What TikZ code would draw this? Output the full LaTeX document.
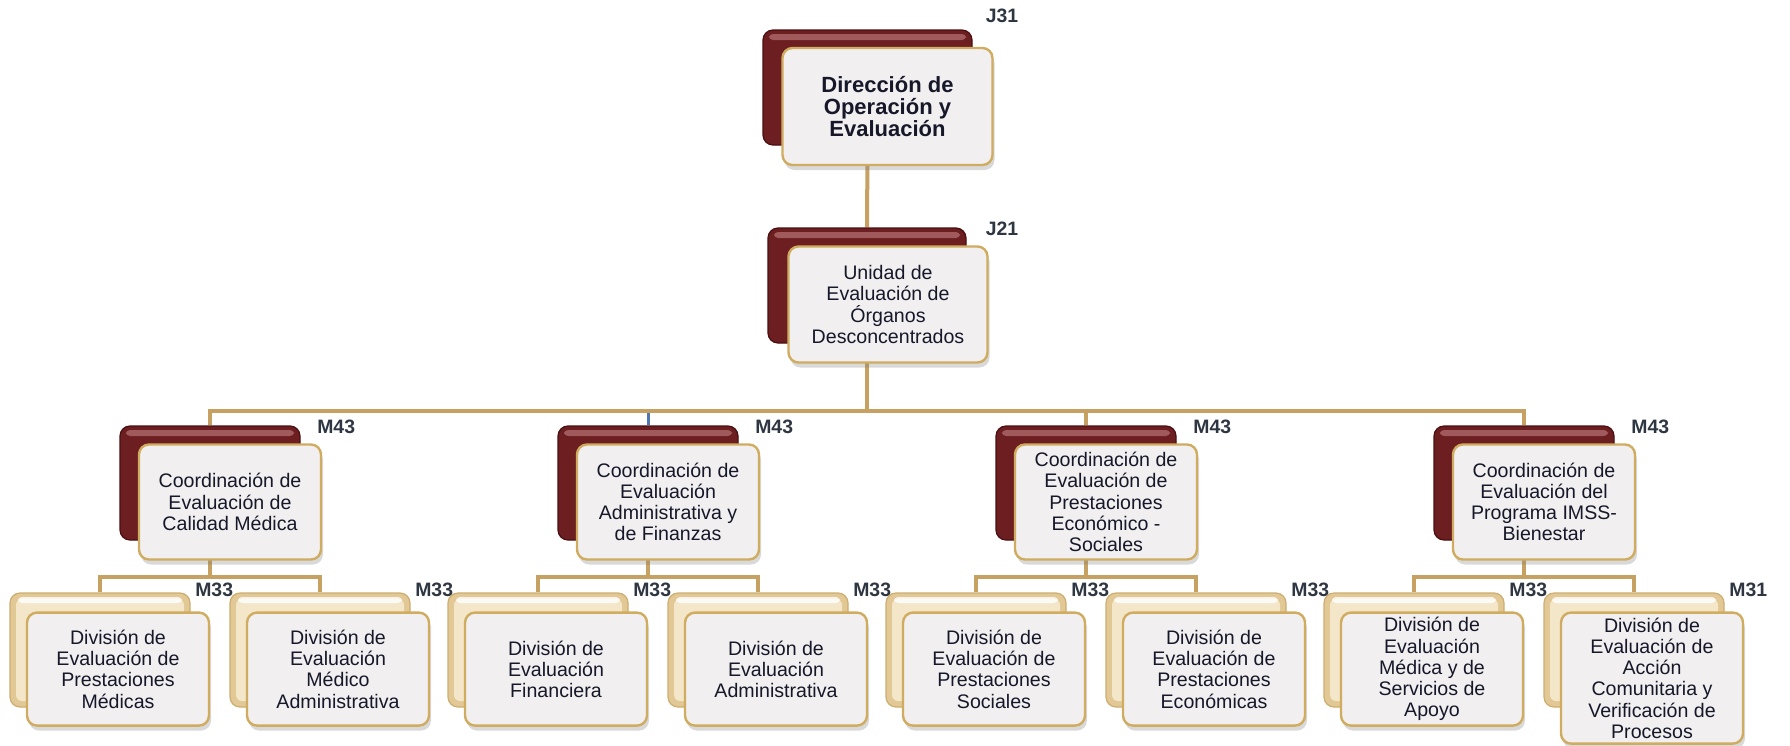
\documentclass[tikz,border=0pt]{standalone}
\usepackage{fontspec}
\setmainfont{Liberation Sans}
\usetikzlibrary{backgrounds,shadows}
\definecolor{maroonDk}{HTML}{4A0F11}
\definecolor{maroonBase}{HTML}{6C1E20}
\definecolor{maroonLt}{HTML}{A05A5B}
\definecolor{goldline}{HTML}{C6A161}
\definecolor{goldedge}{HTML}{D0AC60}
\definecolor{beigeLt}{HTML}{F3E6C9}
\definecolor{beigeBase}{HTML}{E2C894}
\definecolor{beigeDk}{HTML}{CDAE70}
\definecolor{cardfill}{HTML}{F1EFEF}
\definecolor{textdark}{HTML}{16182A}
\definecolor{codegray}{HTML}{2E3642}
\definecolor{linkblue}{HTML}{4F78B0}
\tikzset{
  backred/.style={rectangle,rounded corners=5pt,draw=maroonDk,line width=0.6pt,fill=maroonBase,minimum width=90pt,minimum height=57pt,inner sep=0pt,
    path picture={\fill[maroonLt,rounded corners=2pt] ([shift={(3pt,-2pt)}]path picture bounding box.north west) rectangle ([shift={(-3pt,-5pt)}]path picture bounding box.north east);}},
  backtan/.style={rectangle,rounded corners=5pt,draw=beigeDk,line width=0.6pt,fill=beigeBase,minimum width=90pt,minimum height=57pt,inner sep=0pt,
    path picture={\fill[beigeLt,rounded corners=3pt] ([shift={(3pt,-3pt)}]path picture bounding box.north west) rectangle ([shift={(-3pt,3pt)}]path picture bounding box.south east);
      \fill[white,opacity=0.8,rounded corners=2pt] ([shift={(4pt,-2pt)}]path picture bounding box.north west) rectangle ([shift={(-4pt,-5pt)}]path picture bounding box.north east);}},
  card/.style={rectangle,rounded corners=5pt,draw=goldedge,line width=1.2pt,fill=cardfill,drop shadow={shadow xshift=1pt,shadow yshift=-2.5pt,opacity=0.3},minimum width=91pt,minimum height=57pt,inner sep=1pt,align=center,text=textdark,font=\fontsize{9.8}{10.6}\selectfont},
  codelbl/.style={font=\bfseries\fontsize{9.7}{10}\selectfont,text=codegray,inner sep=0pt},
  orgline/.style={goldline,line width=2pt}
}

\begin{document}
\begin{tikzpicture}[x=0.5pt,y=-0.5pt]
\useasboundingbox (0,0) rectangle (1790,745);
% top levels
\node[backred,minimum width=104.5pt,minimum height=57.5pt] (b1) at (867.5,87.5) {};
\node[card,minimum width=105pt,minimum height=58.5pt,font=\bfseries\fontsize{11}{11}\selectfont] (fb1) at ([shift={(20,19)}]b1) {Dirección de\\Operación y\\Evaluación};
\node[codelbl] (lb1) at (1002,16) {J31};
\node[backred,minimum width=99pt,minimum height=57.5pt] (b2) at (867,285.5) {};
\node[card,minimum width=99.5pt,minimum height=58pt] (fb2) at ([shift={(21,19)}]b2) {Unidad de\\Evaluación de\\Órganos\\Desconcentrados};
\node[codelbl] (lb2) at (1002,229) {J21};
% coordinations
\foreach \k/\txt in {1/{Coordinación de\\Evaluación de\\Calidad Médica},2/{Coordinación de\\Evaluación\\Administrativa y\\de Finanzas},3/{Coordinación de\\Evaluación de\\Prestaciones\\Económico -\\Sociales},4/{Coordinación de\\Evaluación del\\Programa IMSS-\\Bienestar}}{
  \node[backred] (c\k) at (\k*438-228,483) {};
  \node[card,minimum height=57.5pt] (fc\k) at ([shift={(20,19)}]c\k) {\txt};
  \node[codelbl] (lc\k) at ([shift={(14,-16)}]fc\k.north east) {M43};
}
% divisions
\foreach \j/\p/\dx/\lbl/\bh/\txt in {1/1/-110/M33/56.5/{División de\\Evaluación de\\Prestaciones\\Médicas},2/1/110/M33/56.5/{División de\\Evaluación\\Médico\\Administrativa},3/2/-110/M33/56.5/{División de\\Evaluación\\Financiera},4/2/110/M33/56.5/{División de\\Evaluación\\Administrativa},5/3/-110/M33/56.5/{División de\\Evaluación de\\Prestaciones\\Sociales},6/3/110/M33/56.5/{División de\\Evaluación de\\Prestaciones\\Económicas},7/4/-110/M33/56.5/{División de\\Evaluación\\Médica y de\\Servicios de\\Apoyo},8/4/110/M31/65.5/{División de\\Evaluación de\\Acción\\Comunitaria y\\Verificación de\\Procesos}}{
  \node[backtan] (d\j) at (\p*438-228+\dx,650) {};
  \node[card,anchor=north,minimum height=\bh pt] (fd\j) at ([shift={(18,19)}]d\j.north) {\txt};
  \node[codelbl] (ld\j) at ([shift={(4,-22)}]fd\j.north east) {\lbl};
}
\coordinate (bus3) at (867,411);
\coordinate (bus4) at (0,577);
\begin{scope}[on background layer]
  \draw[orgline] (b1) -- (b2);
  \draw[orgline] (b2) -- (bus3);
  \draw[orgline,line join=miter] (c1) |- (bus3) -| (c4);
  \draw[orgline] (c3) -- (c3 |- bus3);
  \draw[orgline] (c2) -- (c2.north);
  \draw[linkblue,line width=1.5pt] (c2.north) -- ([yshift=-1pt]c2 |- bus3);
  \foreach \k/\a/\b in {1/1/2,2/3/4,3/5/6,4/7/8}{
    \draw[orgline] (c\k) -- (c\k |- bus4);
    \draw[orgline,line join=miter] (d\a) |- (c\k |- bus4) -| (d\b);
  }
\end{scope}
\end{tikzpicture}
\end{document}
